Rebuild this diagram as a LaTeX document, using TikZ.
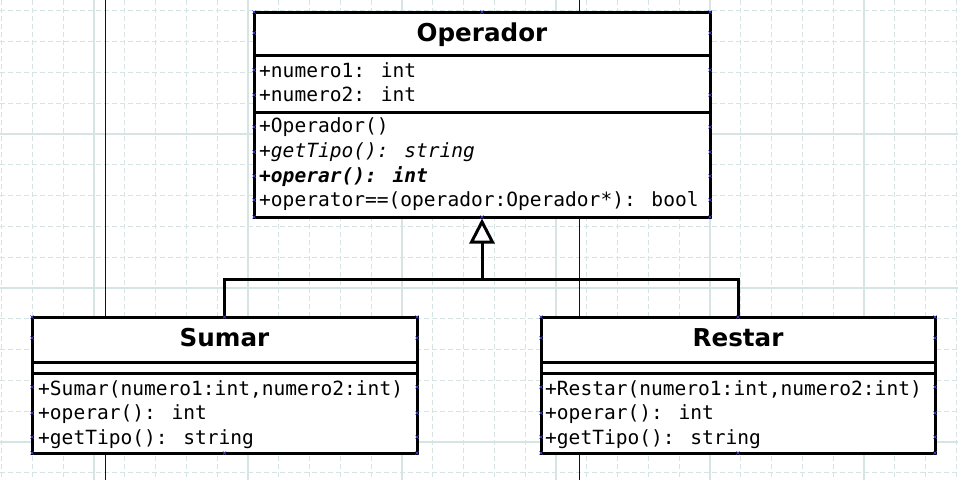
\documentclass[tikz,border=0pt]{standalone}
\usepackage{fontspec}
\usetikzlibrary{arrows.meta}
\newfontfamily\umlmono{DejaVu Sans Mono}
\newfontfamily\umlsans{DejaVu Sans}
\definecolor{gridgray}{RGB}{214,228,228}
\definecolor{pagenavy}{RGB}{0,0,170}
\definecolor{cpblue}{RGB}{70,70,230}

\begin{document}
\begin{tikzpicture}[x=1pt,y=-1pt,
    classbox/.style={draw,fill=white,line width=3pt,inner sep=0pt},
    sepline/.style={line width=3pt},
    title/.style={font=\umlsans\bfseries\fontsize{24.6}{28}\selectfont,inner sep=0pt,anchor=base},
    member/.style={font=\umlmono\fontsize{19.55}{24}\selectfont,inner sep=0pt,anchor=base west},
    minorgrid/.style={gridgray,line width=1pt,dash pattern=on 5pt off 3pt},
    majorgrid/.style={gridgray,line width=1.2pt},
    link/.style={line width=3pt},
    cp/.style={cpblue,line width=0.6pt}]
    \useasboundingbox (0,0) rectangle (958,480);
    \fill[white] (0,0) rectangle (958,480);

    \foreach \k in {0,...,31} \draw[minorgrid] ({1.6+30.8*\k},0) -- ++(0,480);
    \foreach \k in {0,...,15} \draw[minorgrid] (0,{10.8+30.8*\k}) -- ++(958,0);
    \foreach \x in {94,248,402,556,710,864} \draw[majorgrid] (\x,0) -- ++(0,480);
    \foreach \y in {134,288,442} \draw[majorgrid] (0,\y) -- ++(958,0);
    \draw[pagenavy,line width=1pt] (105,0) -- (105,480);
    \draw[pagenavy,line width=1pt] (579,0) -- (579,480);

    \node[classbox,minimum width=456pt,minimum height=205pt] at (482,114.5) (operador) {};
    \node[classbox,minimum width=385pt,minimum height=136pt] at (224.5,385) (sumar) {};
    \node[classbox,minimum width=394pt,minimum height=136pt] at (738,385) (restar) {};

    \draw[sepline] (254,55) -- (710,55);
    \draw[sepline] (254,112) -- (710,112);
    \draw[sepline] (32,362) -- (417,362);
    \draw[sepline] (32,373) -- (417,373);
    \draw[sepline] (541,362) -- (935,362);
    \draw[sepline] (541,373) -- (935,373);

    \node[title] at (482,41) (operadorT) {Operador};
    \node[member] at (259,77) (num1) {+numero1: int};
    \node[member] at (259,101.7) (num2) {+numero2: int};
    \node[member] at (259,132.7) (opCons) {+Operador()};
    \node[member] at (259,157.4) (opTipo) {\itshape +getTipo(): string};
    \node[member] at (259,182) (opOperar) {\bfseries\itshape +operar(): int};
    \node[member] at (259,206.7) (opIgual) {+operator==(operador:Operador*): bool};

    \node[title] at (224.5,346.7) (sumarT) {Sumar};
    \node[member] at (38,395) (suCons) {+Sumar(numero1:int,numero2:int)};
    \node[member] at (38,419.7) (suOperar) {+operar(): int};
    \node[member] at (38,444.3) (suTipo) {+getTipo(): string};

    \node[title] at (738,346.7) (restarT) {Restar};
    \node[member] at (545,395) (reCons) {+Restar(numero1:int,numero2:int)};
    \node[member] at (545,419.7) (reOperar) {+operar(): int};
    \node[member] at (545,444.3) (reTipo) {+getTipo(): string};

    \coordinate (joint) at (482,279);
    \draw[link] (sumar.north) |- (joint) -| (restar.north);
    \draw[link,-{Triangle[open,length=25pt,width=25pt,line width=3pt]}] (joint) -- (operador.south);

    \foreach \y in {12,33,70,95,127,152,176,200,217}
        \foreach \x in {254,710}
            \draw[cp] (\x-1.6,\y-1.6) -- (\x+1.6,\y+1.6) (\x-1.6,\y+1.6) -- (\x+1.6,\y-1.6);
    \foreach \y in {12,217}
        \draw[cp] (482-1.6,\y-1.6) -- (482+1.6,\y+1.6) (482-1.6,\y+1.6) -- (482+1.6,\y-1.6);
    \foreach \y in {317,338,387,413,437,453}
        \foreach \x in {32,417,541,935}
            \draw[cp] (\x-1.6,\y-1.6) -- (\x+1.6,\y+1.6) (\x-1.6,\y+1.6) -- (\x+1.6,\y-1.6);
    \foreach \y in {317,453}
        \foreach \x in {224.5,738}
            \draw[cp] (\x-1.6,\y-1.6) -- (\x+1.6,\y+1.6) (\x-1.6,\y+1.6) -- (\x+1.6,\y-1.6);
\end{tikzpicture}
\end{document}
